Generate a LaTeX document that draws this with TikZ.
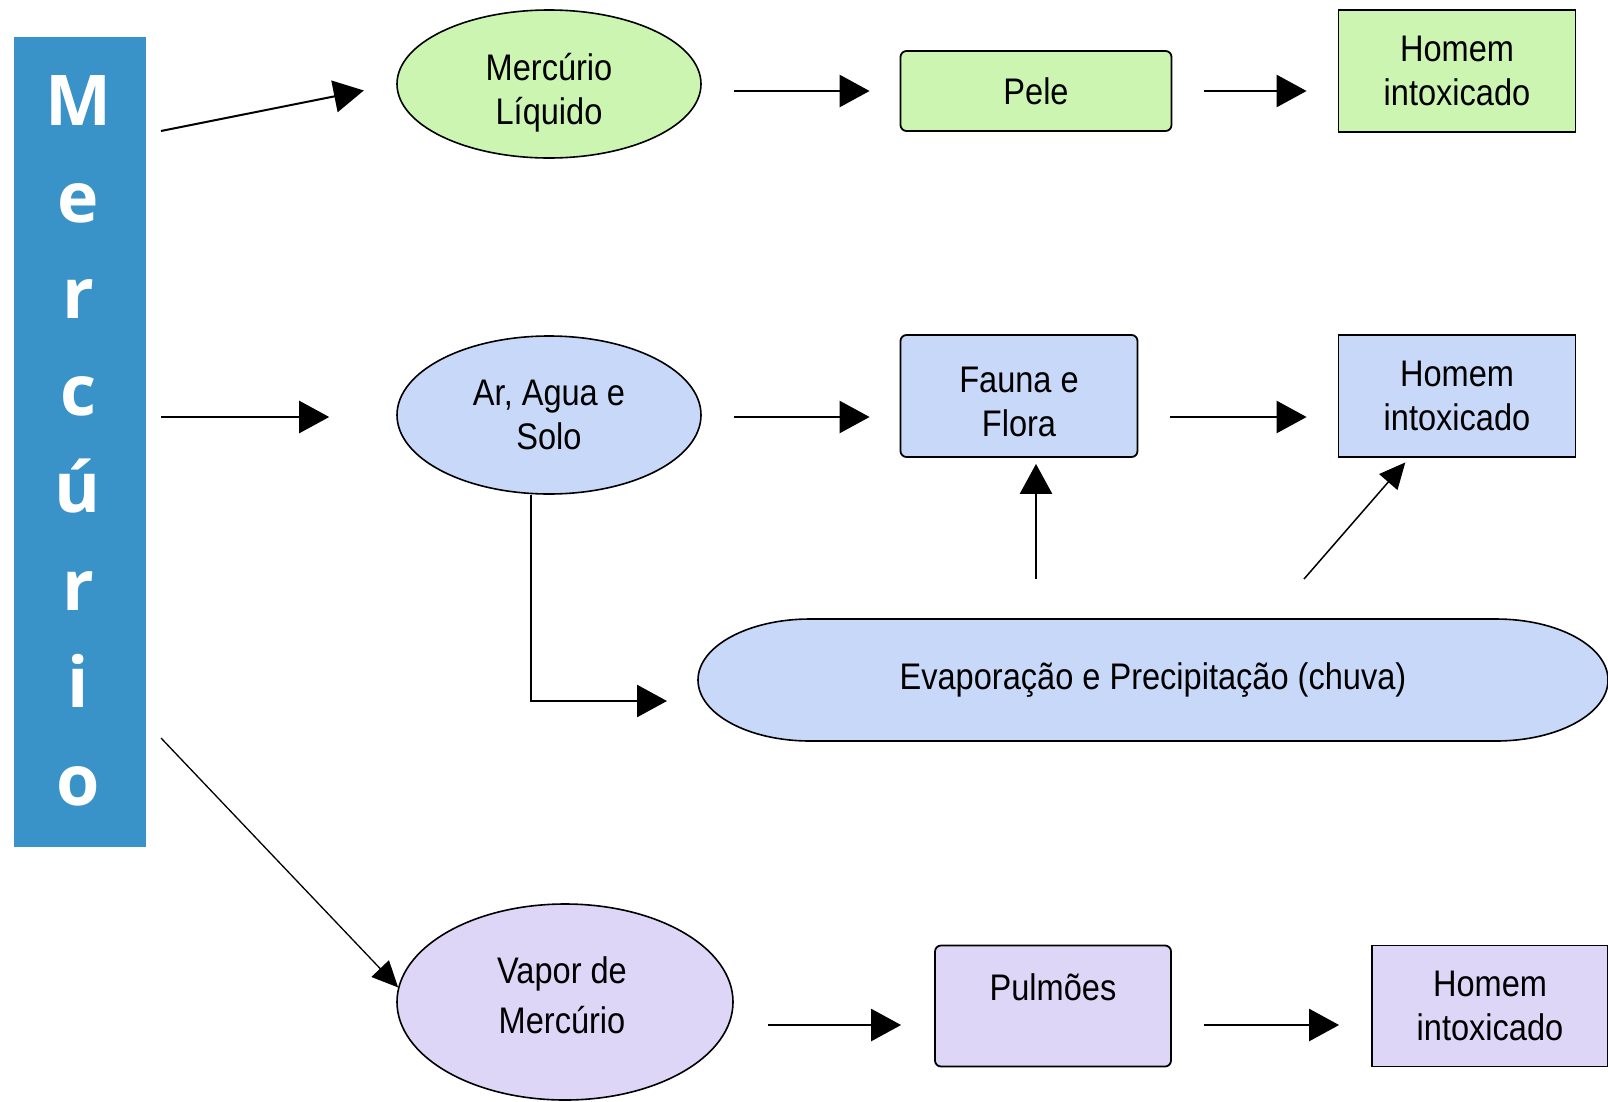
\documentclass[tikz,border=0pt]{standalone}
\usepackage{fontspec}
\setmainfont{Liberation Sans}[FakeStretch=0.88]
\newfontfamily\barfont{Open Sans}
\usetikzlibrary{shapes.geometric,arrows.meta,calc}
\definecolor{gfill}{RGB}{204,245,178}
\definecolor{bfill}{RGB}{200,216,248}
\definecolor{pfill}{RGB}{221,214,247}
\definecolor{barblue}{RGB}{58,147,200}
\tikzset{
  txt/.style={inner sep=0pt, align=center, font=\fontsize{37}{44}\selectfont},
  box/.style={txt, draw=black, line width=1.8pt},
  rbox/.style={box, rounded corners=6pt},
  ell/.style={box, ellipse, line width=1.6pt},
  arr/.style={line width=2.6pt, -{Triangle[length=30pt,width=32pt]}},
  thinarr/.style={line width=1.3pt, -{Triangle[length=26pt,width=24pt]}},
  barletter/.style={text=white, anchor=base, inner sep=0pt,
    font=\barfont\bfseries\fontsize{70}{80}\selectfont}
}
\begin{document}
\begin{tikzpicture}[x=1pt,y=-1pt]
\useasboundingbox (0,0) rectangle (1608,1101);
\fill[white] (0,0) rectangle (1608,1101);

% left bar
\node[fill=barblue, minimum width=132pt, minimum height=810pt, inner sep=0pt] (bar) at (80,442) {};
\node[barletter] (l1) at (78,125) {M};
\node[barletter] (l2) at (78,222) {e};
\node[barletter] (l3) at (78,318) {r};
\node[barletter] (l4) at (78,415) {c};
\node[barletter] (l5) at (78,512) {ú};
\node[barletter] (l6) at (78,610) {r};
\node[barletter] (l7) at (78,707) {i};
\node[barletter] (l8) at (78,805) {o};

% row 1
\node[ell, fill=gfill, minimum width=304pt, minimum height=148pt] (e1) at (549,84) {};
\node[txt] (e1t) at (549,93) {Mercúrio\\Líquido};
\node[rbox, fill=gfill, minimum width=271pt, minimum height=80pt] (pele) at (1036,91) {Pele};
\node[box, fill=gfill, minimum width=237pt, minimum height=122pt] (h1) at (1457,71) {Homem\\intoxicado};

% row 2
\node[ell, fill=bfill, minimum width=304pt, minimum height=158pt] (e2) at (549,415) {Ar, Agua e\\Solo};
\node[rbox, fill=bfill, minimum width=237pt, minimum height=122pt] (fauna) at (1019,396) {};
\node[txt] (faunat) at (1019,402) {Fauna e\\Flora};
\node[box, fill=bfill, minimum width=237pt, minimum height=122pt] (h2) at (1457,396) {Homem\\intoxicado};
% flattened ellipse
\draw[line width=1.6pt, fill=bfill] (810,619) -- (1496,619)
  arc[start angle=-90, end angle=90, x radius=112, y radius=61]
  -- (810,741)
  arc[start angle=90, end angle=270, x radius=112, y radius=61] -- cycle;
\node[txt, minimum width=910pt, minimum height=122pt] (e3) at (1153,680) {Evaporação e Precipitação (chuva)};

% row 3
\node[ell, fill=pfill, minimum width=336pt, minimum height=196pt] (e4) at (565,1002) {};
\node[txt] (e4t) at (562,995) {Vapor de\\[6pt]Mercúrio};
\node[rbox, fill=pfill, minimum width=236pt, minimum height=121pt, text depth=38pt] (pul) at (1053,1006) {Pulmões};
\node[box, fill=pfill, minimum width=236pt, minimum height=121pt] (h3) at (1490,1006) {Homem\\intoxicado};

% free ends
\coordinate (s1) at (161,131);
\coordinate (s2) at (161,417);
\coordinate (s3) at (161,738);
\coordinate (t3) at (667,701);
\coordinate (u1) at (1036,579);
\coordinate (u2) at (1304,579);
\coordinate (r3) at (0,1025);
\coordinate (r2) at (0,417);

% connectors
\draw[arr, line width=2pt, shorten >=33pt] (s1) -- (e1.west);
\draw[arr, shorten >=67pt] (s2) -- (e2.west |- s2);
\draw[thinarr] (s3) -- (e4.175);

\draw[arr, shorten <=32pt, shorten >=30pt] (e1.east |- pele.west) -- (pele.west);
\draw[arr, shorten <=32pt, shorten >=31pt] (pele.east) -- (h1.west |- pele.east);

\draw[arr, shorten <=32pt, shorten >=30pt] (e2.east |- r2) -- (fauna.west |- r2);
\draw[arr, shorten <=32pt, shorten >=31pt] (fauna.east |- r2) -- (h2.west |- r2);
\draw[arr] ([xshift=-18pt]e2.south) |- (t3);
\draw[arr, shorten >=6pt] (u1) -- (u1 |- fauna.south);
\draw[thinarr, line width=1.5pt, shorten >=6pt] (u2) -- ($(h2.south west)!0.3!(h2.south east)$);

\draw[arr, shorten <=34pt, shorten >=33pt] (e4.east |- r3) -- (pul.west |- r3);
\draw[arr, shorten <=32pt, shorten >=32pt] (pul.east |- r3) -- (h3.west |- r3);
\end{tikzpicture}
\end{document}
